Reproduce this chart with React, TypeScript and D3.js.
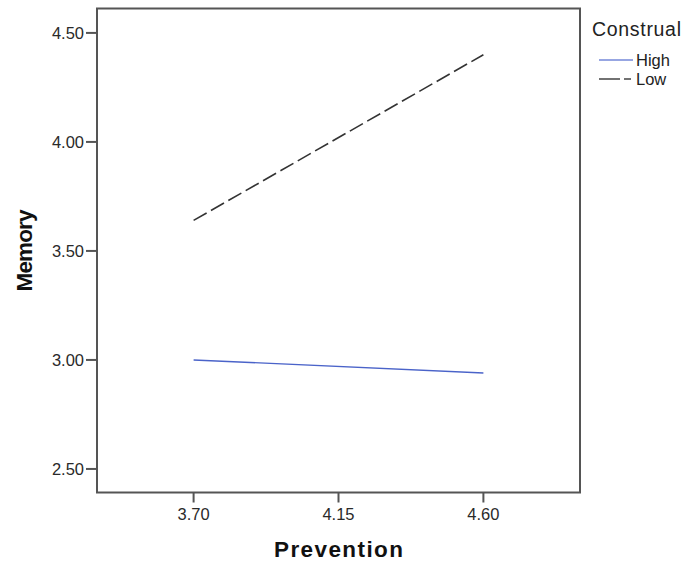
import React from "react";
import * as d3 from "d3";

const xTicks = [3.7, 4.15, 4.6];
const yTicks = [2.5, 3.0, 3.5, 4.0, 4.5];
const seriesNames = ["High", "Low"];
const preventionValues = [3.7, 4.6];
const highValues = [3.0, 2.94];
const lowValues = [3.64, 4.4];
const legendTitle = "Construal";
const xTitle = "Prevention";
const yTitle = "Memory";

const W = 683;
const H = 568;
const M = { left: 97, right: 580, top: 8.5, bottom: 492.5 };

export default function App() {
  const x = d3.scaleLinear().domain([3.4, 4.9]).range([M.left, M.right]);
  const y = d3.scaleLinear().domain([2.392, 4.612]).range([M.bottom, M.top]);
  const line = d3
    .line<[number, number]>()
    .x((d) => x(d[0]))
    .y((d) => y(d[1]));
  const series = [
    { name: seriesNames[0], values: highValues, color: "#4a63c9", dash: "none", width: 1.4 },
    { name: seriesNames[1], values: lowValues, color: "#333333", dash: "15,5", width: 1.6 },
  ];
  const font = "'Liberation Sans', Arial, sans-serif";
  return (
    <svg
      width={W}
      height={H}
      style={{ position: "absolute", left: 0, top: 0, background: "#fff" }}
      fontFamily={font}
    >
      <rect x={0} y={0} width={W} height={H} fill="#fff" />
      {series.map((s) => (
        <path
          key={s.name}
          d={line(preventionValues.map((p, i) => [p, s.values[i]] as [number, number])) || ""}
          fill="none"
          stroke={s.color}
          strokeWidth={s.width}
          strokeDasharray={s.dash}
        />
      ))}
      <rect
        x={M.left}
        y={M.top}
        width={M.right - M.left}
        height={M.bottom - M.top}
        fill="none"
        stroke="#555"
        strokeWidth={2}
      />
      {yTicks.map((t) => (
        <g key={t}>
          <line x1={M.left - 11} x2={M.left} y1={y(t)} y2={y(t)} stroke="#555" strokeWidth={2} />
          <text x={M.left - 13} y={y(t) + 6} textAnchor="end" fontSize={16.5} fill="#2a2a2a">
            {t.toFixed(2)}
          </text>
        </g>
      ))}
      {xTicks.map((t) => (
        <g key={t}>
          <line x1={x(t)} x2={x(t)} y1={M.bottom} y2={M.bottom + 10} stroke="#555" strokeWidth={2} />
          <text x={x(t)} y={520} textAnchor="middle" fontSize={16.5} fill="#2a2a2a">
            {t.toFixed(2)}
          </text>
        </g>
      ))}
      <text
        x={(M.left + M.right) / 2}
        y={557}
        textAnchor="middle"
        fontSize={22.5}
        fontWeight="bold"
        fill="#111"
        textLength={129}
        lengthAdjust="spacing"
      >
        {xTitle}
      </text>
      <text
        transform={`translate(32, ${(M.top + M.bottom) / 2}) rotate(-90)`}
        textAnchor="middle"
        fontSize={22.5}
        fontWeight="bold"
        fill="#111"
        textLength={82}
        lengthAdjust="spacing"
      >
        {yTitle}
      </text>
      <text x={592} y={36} fontSize={19.5} fill="#222" textLength={89} lengthAdjust="spacing">
        {legendTitle}
      </text>
      {series.map((s, i) => (
        <g key={s.name}>
          <line
            x1={599}
            x2={633}
            y1={60 + i * 19}
            y2={60 + i * 19}
            stroke={s.name === "High" ? "#7489d8" : "#444"}
            strokeWidth={1.6}
            strokeDasharray={s.name === "High" ? "none" : "21,4,7,2"}
          />
          <text x={636} y={65.5 + i * 19} fontSize={16.5} fill="#222">
            {s.name}
          </text>
        </g>
      ))}
    </svg>
  );
}
